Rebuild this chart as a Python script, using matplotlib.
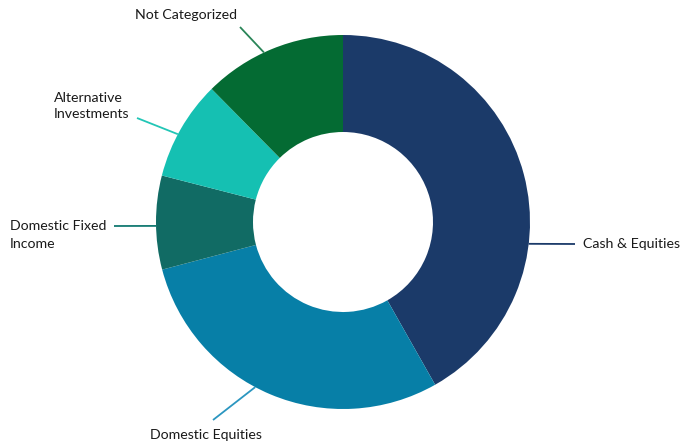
import numpy as np
import matplotlib
matplotlib.use("Agg")
import matplotlib.pyplot as plt

# slice shares in percent, clockwise from 12 o'clock
labels = ["Cash & Equities", "Domestic Equities", "Domestic Fixed\nIncome",
          "Alternative\nInvestments", "Not Categorized"]
values = [41.8, 29.1, 8.1, 8.6, 12.4]
colors = ["#1b3a69", "#077fa7", "#116b64", "#15c0b2", "#046b33"]
line_colors = ["#1b3a69", "#2b96c0", "#137a72", "#22c6b6", "#2a8558"]

# label layout (pixel coords, y from top) and leader line angles (deg clockwise from top)
lead_angle = [96.7, 208, 268.8, 298, 335]
lead_end = [(575, 244), (213, 420), (114, 226), (137, 118), (240, 27)]
text_pos = [(583, 244), (150, 435), (10, 235), (54, 106), (135, 15)]

W, H = 684, 447
cx, cy, R, r_in = 343, 222, 187, 90

fig = plt.figure(figsize=(W / 100, H / 100), dpi=100)
ax = fig.add_axes([0, 0, 1, 1])

ax.pie(values, colors=colors, startangle=90, counterclock=False,
       center=(cx, H - cy), radius=R,
       wedgeprops=dict(width=R - r_in, linewidth=0))

for i in range(len(labels)):
    a = np.radians(lead_angle[i])
    x0 = cx + R * np.sin(a)
    y0 = (H - cy) + R * np.cos(a)
    x1, y1 = lead_end[i]
    ax.plot([x0, x1], [y0, H - y1], color=line_colors[i], lw=1.3,
            solid_capstyle="butt")
    tx, ty = text_pos[i]
    ax.text(tx, H - ty, labels[i], ha="left", va="center",
            fontsize=10.2, family="Lato", color="#1a1a1a", linespacing=1.5)

ax.set_xlim(0, W)
ax.set_ylim(0, H)
ax.set_aspect("equal")
ax.axis("off")

fig.savefig("out.png", dpi=100)
